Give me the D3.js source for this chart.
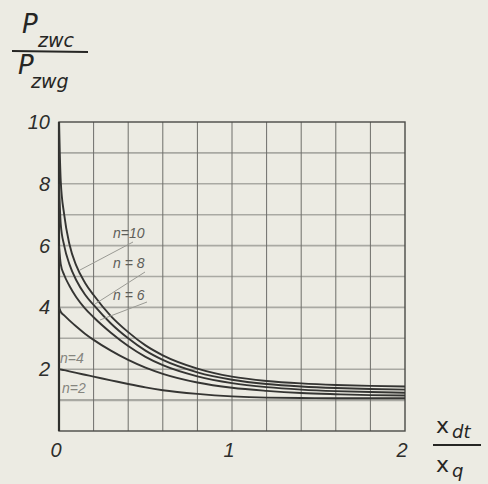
<!DOCTYPE html>
<html>
<head>
<meta charset="utf-8">
<script src="https://cdn.jsdelivr.net/npm/d3@7/dist/d3.min.js"></script>
<style>
html,body{margin:0;padding:0;background:#ecebe3;}
svg{display:block;}
</style>
</head>
<body>
<svg id="chart" width="488" height="484"></svg>
<script>
// ---- data ----
const xs      = [0, 0.01, 0.03, 0.06, 0.1, 0.15, 0.2, 0.3, 0.4, 0.5, 0.6, 0.8, 1.0, 1.2, 1.4, 1.6, 1.8, 2.0];
const n10     = [10, 8.1, 7.0, 6.05, 5.35, 4.8, 4.4, 3.72, 3.2, 2.77, 2.45, 2.02, 1.76, 1.62, 1.54, 1.49, 1.46, 1.44];
const n8      = [8, 6.7, 6.0, 5.4, 4.88, 4.42, 4.08, 3.48, 3.0, 2.6, 2.3, 1.9, 1.66, 1.52, 1.44, 1.39, 1.36, 1.34];
const n6      = [6, 5.4, 5.05, 4.7, 4.33, 3.97, 3.68, 3.18, 2.75, 2.4, 2.13, 1.77, 1.55, 1.42, 1.34, 1.29, 1.26, 1.24];
const n4      = [4, 3.86, 3.74, 3.58, 3.38, 3.15, 2.95, 2.6, 2.3, 2.05, 1.85, 1.57, 1.4, 1.3, 1.23, 1.19, 1.16, 1.15];
const n2      = [2, 1.99, 1.97, 1.93, 1.88, 1.82, 1.76, 1.64, 1.52, 1.41, 1.32, 1.2, 1.12, 1.08, 1.07, 1.06, 1.06, 1.06];
const seriesNames = ["n=10", "n = 8", "n = 6", "n=4", "n=2"];
const xTicks  = [0, 1, 2];
const yTicks  = [2, 4, 6, 8, 10];

const series = [n10, n8, n6, n4, n2];

const svg = d3.select("#chart");
const pL = 59, pR = 405, pT = 122, pB = 431;
const x = d3.scaleLinear().domain([0, 2]).range([pL, pR]);
const y = d3.scaleLinear().domain([0, 10]).range([pB, pT]);

// horizontal grid
svg.append("g").selectAll("line").data(d3.range(1, 10)).join("line")
  .attr("x1", pL).attr("x2", pR)
  .attr("y1", d => y(d)).attr("y2", d => y(d))
  .attr("stroke", "#a9a9a3").attr("stroke-width", d => d === 1 ? 2.4 : 1.6);
// vertical grid
svg.append("g").selectAll("line").data(d3.range(1, 10).map(i => i * 0.2)).join("line")
  .attr("x1", d => x(d)).attr("x2", d => x(d))
  .attr("y1", pT).attr("y2", pB)
  .attr("stroke", "#6e6e6a").attr("stroke-width", 1);
// frame
svg.append("rect").attr("x", pL).attr("y", pT)
  .attr("width", pR - pL).attr("height", pB - pT)
  .attr("fill", "none").attr("stroke", "#4a4a47").attr("stroke-width", 1.4);
svg.append("line").attr("x1", pL).attr("x2", pL).attr("y1", pT).attr("y2", pB)
  .attr("stroke", "#2f2f2d").attr("stroke-width", 2.2);

// curves
const line = d3.line().x((d, i) => x(xs[i])).y(d => y(d)).curve(d3.curveMonotoneX);
svg.append("g").selectAll("path").data(series).join("path")
  .attr("d", d => line(d))
  .attr("fill", "none").attr("stroke", "#353533").attr("stroke-width", 1.9);

// tick labels
const tickFont = "'Liberation Sans', Arial, sans-serif";
svg.append("g").selectAll("text").data(yTicks).join("text")
  .attr("x", 50).attr("y", d => y(d) + 7)
  .attr("text-anchor", "end")
  .attr("font-family", tickFont).attr("font-style", "italic")
  .attr("font-size", 20).attr("fill", "#2e2e2c")
  .text(d => d);
svg.append("g").selectAll("text").data(xTicks).join("text")
  .attr("x", d => x(d) - 3).attr("y", 457)
  .attr("text-anchor", "middle")
  .attr("font-family", tickFont).attr("font-style", "italic")
  .attr("font-size", 20).attr("fill", "#2e2e2c")
  .text(d => d);

// series labels
const labelPos = [[113, 238], [113, 268], [113, 300], [60, 363], [62, 393]];
svg.append("g").selectAll("text").data(seriesNames).join("text")
  .attr("x", (d, i) => labelPos[i][0]).attr("y", (d, i) => labelPos[i][1])
  .attr("font-family", tickFont).attr("font-style", "italic")
  .attr("font-size", 14).attr("fill", (d, i) => i < 3 ? "#5e5e5a" : "#85857f")
  .text(d => d);
// leader lines
const leaders = [[[133, 242], [80, 270]], [[145, 272], [95, 304]], [[147, 302], [100, 320]]];
svg.append("g").selectAll("line").data(leaders).join("line")
  .attr("x1", d => d[0][0]).attr("y1", d => d[0][1])
  .attr("x2", d => d[1][0]).attr("y2", d => d[1][1])
  .attr("stroke", "#9a9a94").attr("stroke-width", 1);

// axis titles (fractions)
const tf = "'DejaVu Sans', sans-serif";
const yt = svg.append("g").attr("fill", "#262624").attr("font-family", tf).attr("font-style", "italic");
yt.append("text").attr("x", 22).attr("y", 33).attr("font-size", 26).text("P");
yt.append("text").attr("x", 38).attr("y", 47).attr("font-size", 19).text("zwc");
yt.append("line").attr("x1", 12).attr("x2", 88).attr("y1", 51).attr("y2", 52)
  .attr("stroke", "#262624").attr("stroke-width", 2);
yt.append("text").attr("x", 18).attr("y", 74).attr("font-size", 26).text("P");
yt.append("text").attr("x", 31).attr("y", 88).attr("font-size", 19).text("zwg");

const xt = svg.append("g").attr("fill", "#262624").attr("font-family", tf).attr("font-style", "normal");
xt.append("text").attr("x", 436).attr("y", 433).attr("font-size", 22).text("x");
xt.append("text").attr("x", 452).attr("y", 438).attr("font-size", 18).attr("font-style", "italic").text("dt");
xt.append("line").attr("x1", 433).attr("x2", 481).attr("y1", 445).attr("y2", 445)
  .attr("stroke", "#262624").attr("stroke-width", 1.8);
xt.append("text").attr("x", 436).attr("y", 472).attr("font-size", 22).text("x");
xt.append("text").attr("x", 452).attr("y", 477).attr("font-size", 18).attr("font-style", "italic").text("q");
</script>
</body>
</html>
